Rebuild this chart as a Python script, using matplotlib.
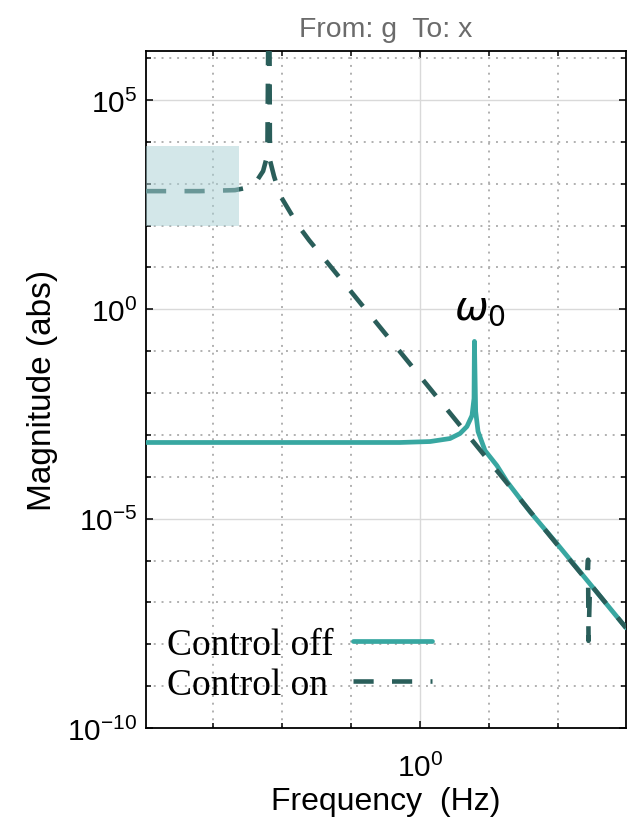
import numpy as np
import matplotlib
matplotlib.use("Agg")
import matplotlib.pyplot as plt
from matplotlib.ticker import FixedLocator, FuncFormatter, NullFormatter
from matplotlib.patches import Rectangle

# ---- data ----
freq_off = [0.1607, 0.449, 0.875, 1.069, 1.222, 1.306, 1.368, 1.415, 1.434,
            1.438, 1.450, 1.473, 1.543, 1.671, 1.787, 2.083, 2.495, 3.954]
mag_off = [6.6e-4, 6.6e-4, 6.6e-4, 6.95e-4, 8.2e-4, 1.08e-3, 1.59e-3, 2.91e-3,
           7.43e-3, 0.1715, 3.63e-3, 1.21e-3, 4.24e-4, 1.85e-4, 7.67e-5,
           1.47e-5, 2.52e-6, 2.47e-8]

freq_on = [0.1607, 0.230, 0.291, 0.311, 0.326, 0.339, 0.351, 0.358, 0.3614,
           0.3633, 0.3663, 0.3674, 0.3775, 0.3929, 0.417, 0.443, 0.477, 0.556,
           2.512, 3.048, 3.069, 3.079, 3.110, 3.954]
mag_on = [665, 665, 703, 785, 926, 1288, 2001, 3670, 9360,
          3.2e6, 3.2e6, 3670, 1520, 533, 234, 102, 44.8, 9.57,
          2.26e-6, 3.29e-7, 1.045e-6, 1.205e-8, 2.79e-7, 2.47e-8]

highlight_freq = [0.1607, 0.2987]
highlight_mag = [100, 8000]

labels = ["Control off", "Control on"]
title = "From: g  To: x"

c_off = "#38a7a1"
c_on = "#2a5e5a"

fig = plt.figure(figsize=(6.41, 8.29), dpi=100)
ax = fig.add_axes([146/641, 1 - 729/829, 480/641, 677/829])

ax.plot(freq_off, mag_off, color=c_off, lw=3.4, solid_capstyle="round",
        solid_joinstyle="round", label=labels[0], zorder=3)
ax.plot(freq_on, mag_on, color=c_on, lw=3.3, linestyle=(0, (4.4, 4.0)),
        dash_capstyle="butt", label=labels[1], zorder=4)

ax.add_patch(Rectangle((highlight_freq[0], highlight_mag[0]),
                       highlight_freq[1] - highlight_freq[0],
                       highlight_mag[1] - highlight_mag[0],
                       facecolor="#a9d1d5", alpha=0.5, edgecolor="none", zorder=5))

ax.set_xscale("log")
ax.set_yscale("log")
ax.set_xlim(10**-0.794, 10**0.597)
ax.set_ylim(1e-10, 10**6.17)

ax.xaxis.set_major_locator(FixedLocator([1.0]))
ax.xaxis.set_minor_locator(FixedLocator([10**(0.2*k) for k in range(-4, 4) if k != 0]))
ax.yaxis.set_major_locator(FixedLocator([1e-10, 1e-5, 1e0, 1e5]))
ax.yaxis.set_minor_locator(FixedLocator([10.0**k for k in range(-10, 7) if k % 5 != 0]))
ax.xaxis.set_minor_formatter(NullFormatter())
ax.yaxis.set_minor_formatter(NullFormatter())
fmt = FuncFormatter(lambda v, p: r"$\mathregular{10^{%d}}$" % int(round(np.log10(v))))
ax.xaxis.set_major_formatter(fmt)
ax.yaxis.set_major_formatter(fmt)

ax.grid(True, which="major", color="#d9d9d9", lw=1.0, ls="-", zorder=0)
ax.grid(True, which="minor", color="#b0b0b0", lw=1.4, ls=(0, (1, 3)), zorder=0)
ax.set_axisbelow(True)

for s in ax.spines.values():
    s.set_linewidth(1.3)
    s.set_color("black")
ax.tick_params(which="both", direction="in", top=True, right=True,
               width=1.1, colors="black", labelsize=21.5,
               labelfontfamily="Liberation Sans")
ax.tick_params(which="major", length=5)
ax.tick_params(which="minor", length=3.6)
ax.tick_params(axis="y", which="major", pad=6)
ax.tick_params(axis="x", which="major", pad=18)

ax.set_xlabel("Frequency  (Hz)", fontsize=23, family="Liberation Sans", labelpad=3)
ax.set_ylabel("Magnitude (abs)", fontsize=24, family="Liberation Sans", labelpad=7)
ax.set_title(title, fontsize=20.4, color="#6b6b6b", family="Liberation Sans", pad=11)

ax.text(1.49, 0.61, r"$\omega_0$", fontsize=29, ha="center", va="baseline", zorder=6)

leg = ax.legend(loc="lower left", bbox_to_anchor=(-0.01, 0.0), frameon=False,
                markerfirst=False, handlelength=2.1, handletextpad=0.5,
                labelspacing=0.15, borderaxespad=0.3,
                prop={"family": "Liberation Serif", "size": 27})

# left-align legend labels while keeping the line samples aligned
try:
    fig.canvas.draw()
    rend = fig.canvas.get_renderer()
    widths = [t.get_window_extent(rend).width for t in leg.get_texts()]
    wmax = max(widths)
    for col in leg._legend_handle_box.get_children():
        col.align = "left"
        for row, w in zip(col.get_children(), widths):
            row.sep = row.sep + (wmax - w) * 72.0 / fig.dpi
except Exception:
    pass

fig.savefig("out.png", dpi=100)
